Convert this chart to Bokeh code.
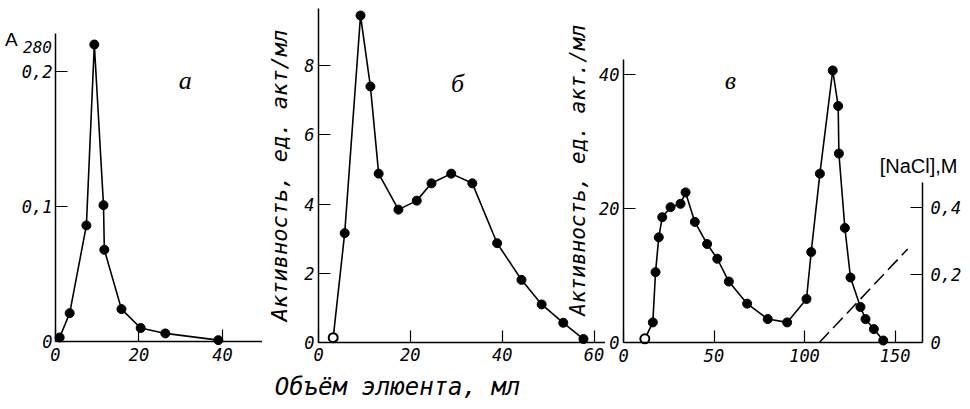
import math
from bokeh.plotting import figure
from bokeh.layouts import row
from bokeh.models import Range1d, LinearAxis, FixedTicker, CustomJSTickFormatter, Label
from bokeh.embed import file_html
from bokeh.resources import INLINE

# ---- panel a: A280 vs eluent volume ----
a_vol = [1.0, 3.4, 7.4, 9.3, 11.5, 11.7, 15.8, 20.4, 26.3, 39.0]
a_abs = [0.003, 0.021, 0.086, 0.220, 0.101, 0.068, 0.024, 0.010, 0.006, 0.001]
a_xticks = [0, 20, 40]
a_yticks = [0, 0.1, 0.2]

# ---- panel б: activity vs eluent volume ----
b_vol = [3.2, 5.7, 9.15, 11.3, 13.1, 17.4, 21.4, 24.6, 28.9, 33.5, 38.9, 44.2, 48.6, 53.3, 57.7]
b_act = [0.14, 3.16, 9.45, 7.40, 4.88, 3.84, 4.10, 4.60, 4.88, 4.60, 2.87, 1.81, 1.10, 0.57, 0.10]
b_xticks = [0, 20, 40, 60]
b_yticks = [0, 2, 4, 6, 8]

# ---- panel в: activity vs eluent volume, NaCl gradient ----
c_vol = [11.8, 16.2, 17.7, 19.5, 21.4, 26.0, 31.5, 34.3, 39.4, 46.2, 51.8, 58.2, 68.3,
         79.7, 90.4, 101.1, 103.7, 108.5, 115.6, 118.6, 119.0, 122.3, 125.4, 130.9,
         133.7, 138.3, 143.5]
c_act = [0.55, 3.0, 10.5, 15.7, 18.7, 20.2, 20.7, 22.4, 18.0, 14.7, 12.5, 9.1, 5.8,
         3.5, 3.0, 6.5, 13.5, 25.2, 40.6, 35.3, 28.2, 17.1, 9.7, 5.3, 3.5, 2.0, 0.3]
nacl_vol = [108.2, 157.0]
nacl_conc = [0.0, 0.277]
c_xticks = [0, 50, 100, 150]
c_yticks = [0, 20, 40]
nacl_ticks = [0, 0.2, 0.4]

MONO = "DejaVu Sans Mono"
SERIF = "Liberation Serif"
H = 405


def comma_fmt():
    return CustomJSTickFormatter(
        code="return tick == 0 ? '0' : tick.toFixed(1).replace('.', ',');")


def make_fig(width, xr, yr):
    p = figure(width=width, height=H, x_range=Range1d(*xr), y_range=Range1d(*yr),
               min_border=0, output_backend="svg", toolbar_location=None)
    p.frame_align = False
    p.outline_line_color = None
    p.background_fill_color = None
    p.border_fill_color = None
    p.grid.visible = False
    return p


def style_axes(p):
    for ax in p.axis:
        ax.axis_line_color = "black"
        ax.axis_line_width = 1.5
        ax.major_tick_in = 12
        ax.major_tick_out = 0
        ax.major_tick_line_color = "black"
        ax.major_tick_line_width = 1.2
        ax.minor_tick_line_color = None
        ax.major_label_text_font = MONO
        ax.major_label_text_font_size = "17px"
        ax.major_label_text_font_style = "italic"
        ax.major_label_text_color = "black"
        ax.axis_label_text_font = MONO
        ax.axis_label_text_font_style = "italic"
        ax.axis_label_text_color = "black"
    p.xaxis.major_label_standoff = 6
    p.yaxis.major_label_standoff = 4


def add_text(p, x, y, text, font=SERIF, size="26px", style="italic", angle=0.0):
    p.add_layout(Label(x=x, y=y, text=text, text_font=font, text_font_size=size,
                       text_font_style=style, text_color="black", angle=angle,
                       text_align="center", text_baseline="middle"))


# ---------------- figure a ----------------
pa = make_fig(262, (-13.17, 49.58), (-0.0474, 0.2526))
pa.line(a_vol, a_abs, line_color="black", line_width=1.6)
pa.scatter(a_vol, a_abs, size=9, fill_color="black", line_color="black")
pa.xaxis.fixed_location = 0
pa.xaxis.bounds = (0, 49.6)
pa.yaxis.fixed_location = 0
pa.yaxis.bounds = (0, 0.228)
style_axes(pa)
pa.xaxis.ticker = FixedTicker(ticks=a_xticks)
pa.yaxis.ticker = FixedTicker(ticks=a_yticks)
pa.yaxis.formatter = comma_fmt()
pa.yaxis.major_label_standoff = 3
add_text(pa, -10.6, 0.2235, "A", font="Liberation Sans", size="19px", style="normal")
add_text(pa, -4.3, 0.2180, "280", font=MONO, size="16px")
add_text(pa, 31.1, 0.193, "а")

# ---------------- figure б ----------------
pb = make_fig(343, (-12.2, 62.5), (-1.821, 9.884))
pb.line(b_vol, b_act, line_color="black", line_width=1.6)
pb.scatter(b_vol[1:], b_act[1:], size=9, fill_color="black", line_color="black")
pb.scatter(b_vol[:1], b_act[:1], size=9, fill_color="white", line_color="black", line_width=2)
pb.xaxis.fixed_location = 0
pb.xaxis.bounds = (0, 62.5)
pb.yaxis.fixed_location = 0
pb.yaxis.bounds = (0, 9.65)
style_axes(pb)
pb.xaxis.ticker = FixedTicker(ticks=b_xticks)
pb.yaxis.ticker = FixedTicker(ticks=b_yticks)
pb.yaxis.axis_label = "Активность, ед. акт/мл"
pb.yaxis.axis_label_text_font_size = "22px"
pb.yaxis.axis_label_standoff = 9
add_text(pb, 30.3, 7.49, "б")
add_text(pb, 17.2, -1.30, "Объём элюента, мл", font=MONO, size="24px")

# ---------------- figure в ----------------
pc = make_fig(406, (-33.7, 190.6), (-9.40, 51.04))
pc.extra_y_ranges = {"nacl": Range1d(-0.1867, 1.0133)}
pc.line(c_vol, c_act, line_color="black", line_width=1.6)
pc.scatter(c_vol[1:], c_act[1:], size=9, fill_color="black", line_color="black")
pc.scatter(c_vol[:1], c_act[:1], size=9, fill_color="white", line_color="black", line_width=2)
pc.line(nacl_vol, nacl_conc, y_range_name="nacl", line_color="black", line_width=1.5,
        line_dash="14 6")
right_ax = LinearAxis(y_range_name="nacl", fixed_location=165.2, bounds=(0, 0.475))
pc.add_layout(right_ax, "right")
pc.xaxis.fixed_location = 0
pc.xaxis.bounds = (0, 165.2)
pc.yaxis[0].fixed_location = 0
pc.yaxis[0].bounds = (0, 42.2)
style_axes(pc)
pc.xaxis.ticker = FixedTicker(ticks=c_xticks)
pc.yaxis[0].ticker = FixedTicker(ticks=c_yticks)
right_ax.ticker = FixedTicker(ticks=nacl_ticks)
right_ax.formatter = comma_fmt()
right_ax.major_label_standoff = 8
add_text(pc, -25.4, 25.7, "Активность, ед. акт./мл", font=MONO, size="21px",
         angle=math.pi / 2)
add_text(pc, 163.0, 26.4, "[NaCl],M", font="Liberation Sans", size="20px", style="normal")
add_text(pc, 59.1, 39.1, "в")
pc.margin = (0, 0, 0, -43)

layout = row(pa, pb, pc)
open("out.html", "w").write(file_html(layout, INLINE))
